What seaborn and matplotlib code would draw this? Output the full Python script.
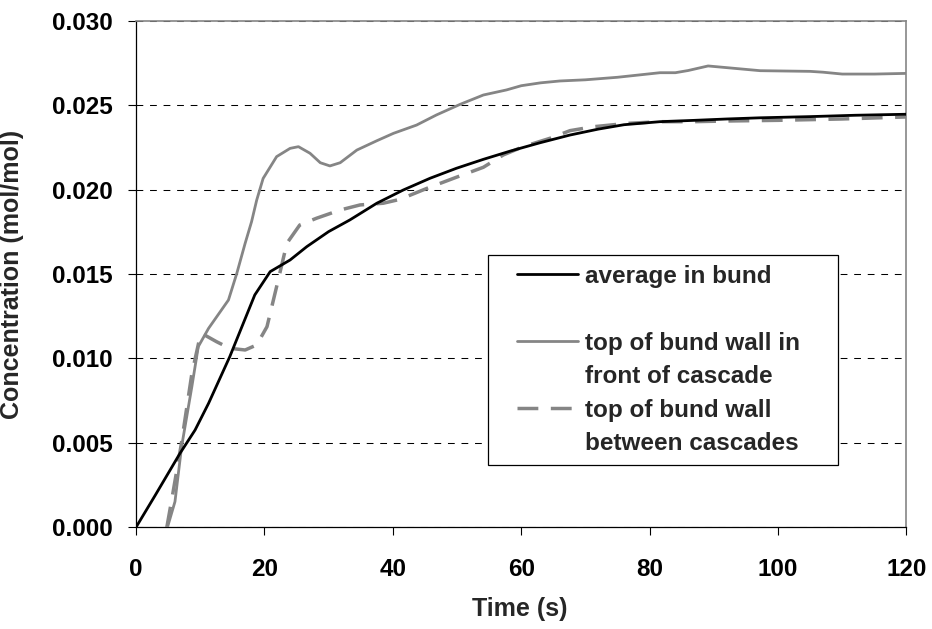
import numpy as np
import pandas as pd
import matplotlib
matplotlib.use("Agg")
import matplotlib.pyplot as plt
import seaborn as sns
from matplotlib.lines import Line2D
from matplotlib.legend_handler import HandlerLine2D

# ---------------- data ----------------
t_avg = [0, 3, 6.85, 9.2, 11.3, 14.6, 18.5, 20.9, 24.0, 26.6, 30.0, 33.3, 37.5,
         41.6, 45.8, 49.9, 54.1, 58.3, 62.9, 67.6, 72, 76, 81.6, 87, 92, 97.2,
         105, 112, 120]
c_avg = [0.0, 0.0019, 0.00438, 0.00576, 0.00734, 0.0101, 0.01376, 0.01514,
         0.01583, 0.01662, 0.01751, 0.0182, 0.01919, 0.01997, 0.02067, 0.02126,
         0.02179, 0.02228, 0.02277, 0.02323, 0.02358, 0.02384, 0.02402, 0.02410,
         0.02418, 0.02425, 0.02432, 0.02440, 0.02446]

t_front = [4.9, 6.07, 7.1, 8.7, 9.7, 11.3, 14.4, 15.7, 17.0, 18.0, 18.8, 19.8,
           21.9, 24.0, 25.3, 27.1, 28.7, 30.2, 31.8, 34.4, 37.5, 40.1, 43.7,
           46.8, 50.5, 54.1, 57.7, 60, 63, 66, 70, 75, 81.6, 84, 86, 89.1, 92,
           97.2, 105, 107, 110, 115, 120]
c_front = [0.0, 0.00152, 0.00477, 0.00833, 0.0107, 0.01178, 0.01346, 0.01504,
           0.01682, 0.0181, 0.01938, 0.02066, 0.02195, 0.02244, 0.02254,
           0.02215, 0.02159, 0.0214, 0.02159, 0.02234, 0.02289, 0.02333,
           0.02382, 0.02442, 0.02505, 0.0256, 0.0259, 0.02615, 0.02632,
           0.02643, 0.0265, 0.02665, 0.02692, 0.02692, 0.02705, 0.02732,
           0.02722, 0.02704, 0.027, 0.02695, 0.02684, 0.02684, 0.02688]

t_between = [4.8, 5.55, 7.0, 8.7, 9.97, 10.2, 12.55, 14.6, 17.0, 18.8, 20.4,
             21.9, 23.5, 25.5, 28.1, 31.8, 34.9, 38.5, 41.1, 45.3, 49.9, 54.1,
             57.2, 60.3, 64.5, 67.6, 71.2, 76.5, 81.6, 86.8, 92, 100, 110, 120]
c_between = [0.0, 0.0016, 0.0048, 0.0091, 0.01129, 0.01149, 0.01099, 0.0106,
             0.0105, 0.0108, 0.01188, 0.01425, 0.01682, 0.0179, 0.0183,
             0.01879, 0.01909, 0.01919, 0.01942, 0.02007, 0.02073, 0.02132,
             0.02205, 0.02254, 0.02304, 0.02349, 0.02372, 0.02392, 0.02402,
             0.02402, 0.02406, 0.0241, 0.02418, 0.0243]

series_labels = ["average in bund",
                 "top of bund wall in\nfront of cascade",
                 "top of bund wall\nbetween cascades"]
x_ticks = [0, 20, 40, 60, 80, 100, 120]
y_ticks = [0.000, 0.005, 0.010, 0.015, 0.020, 0.025, 0.030]
x_label = "Time (s)"
y_label = "Concentration (mol/mol)"

# ---------------- style ----------------
sns.set_style("white")
plt.rcParams["font.family"] = ["Liberation Sans", "DejaVu Sans"]
plt.rcParams["font.weight"] = "bold"

GRAY = "#858585"
FS_TICK = 17.5
FS_LABEL = 18
FS_LEG = 17.5

fig = plt.figure(figsize=(9.32, 6.29), dpi=100)
ax = fig.add_axes([136 / 932, 1 - 527.3 / 629, (906.5 - 136) / 932,
                   (527.3 - 20.7) / 629])

df_avg = pd.DataFrame({"t": t_avg, "c": c_avg})
df_front = pd.DataFrame({"t": t_front, "c": c_front})
df_between = pd.DataFrame({"t": t_between, "c": c_between})

sns.lineplot(data=df_front, x="t", y="c", ax=ax, color=GRAY, lw=2.0,
             legend=False, sort=False, zorder=3)
sns.lineplot(data=df_between, x="t", y="c", ax=ax, color=GRAY, lw=2.5,
             legend=False, sort=False, zorder=4, dashes=False)
sns.lineplot(data=df_avg, x="t", y="c", ax=ax, color="black", lw=2.0,
             legend=False, sort=False, zorder=5)
line_front, line_between, line_avg = ax.get_lines()[:3]
line_between.set_linestyle((0, (6, 3.6)))
for ln in (line_front, line_between, line_avg):
    ln.set_solid_joinstyle("round")
    ln.set_dash_joinstyle("round")

ax.set_xlim(0, 120)
ax.set_ylim(0, 0.030)
ax.set_xticks(x_ticks)
ax.set_yticks(y_ticks)
ax.set_xticklabels([str(v) for v in x_ticks])
ax.set_yticklabels([f"{v:.3f}" for v in y_ticks])
ax.tick_params(axis="both", direction="out", length=6, width=0.8,
               colors="black", labelsize=FS_TICK)
ax.tick_params(axis="y", pad=11, left=True)
ax.tick_params(axis="x", pad=16, bottom=True)
for lab in ax.get_xticklabels() + ax.get_yticklabels():
    lab.set_fontweight("bold")

ax.yaxis.grid(True, color="black", lw=0.75, linestyle=(0, (6.5, 6.5)))
ax.xaxis.grid(False)
ax.set_axisbelow(True)

for side in ["left", "bottom"]:
    ax.spines[side].set_color("black")
    ax.spines[side].set_linewidth(0.9)
for side in ["top", "right"]:
    ax.spines[side].set_color(GRAY)
    ax.spines[side].set_linewidth(1.2)

ax.set_xlabel(x_label, fontsize=FS_LABEL, fontweight="bold")
ax.set_ylabel(y_label, fontsize=FS_LABEL, fontweight="bold")
ax.xaxis.set_label_coords(0.498, -0.138)
ax.yaxis.set_label_coords(-0.146, 0.5)


# ---------------- legend ----------------
class OffsetLineHandler(HandlerLine2D):
    def __init__(self, start_frac, **kw):
        super().__init__(**kw)
        self.start_frac = start_frac

    def get_xdata(self, legend, xdescent, ydescent, width, height, fontsize):
        xd = np.array([-xdescent + self.start_frac * width, -xdescent + width])
        return xd, xd


blanks = [Line2D([], [], lw=0, color="none") for _ in range(3)]
lab1 = series_labels[1].split("\n")
lab2 = series_labels[2].split("\n")
handles = [line_avg, blanks[0], line_front, blanks[1], line_between, blanks[2]]
labels = [series_labels[0], " ", lab1[0], lab1[1], lab2[0], lab2[1]]
hmap = {line_avg: OffsetLineHandler(0.24),
        line_front: OffsetLineHandler(0.24),
        line_between: OffsetLineHandler(0.24)}
leg = ax.legend(handles, labels, handler_map=hmap,
                loc="upper left", bbox_to_anchor=(0.457, 0.0, 0.454, 0.5375),
                mode="expand", borderaxespad=0, borderpad=0.4,
                handlelength=3.3, handletextpad=0.29, labelspacing=0.43,
                fancybox=False, frameon=True, framealpha=1,
                prop={"size": FS_LEG, "weight": "bold"})
leg.get_frame().set_edgecolor("black")
leg.get_frame().set_linewidth(0.9)
leg.set_zorder(10)

fig.savefig("out.png", dpi=100, facecolor="white")
